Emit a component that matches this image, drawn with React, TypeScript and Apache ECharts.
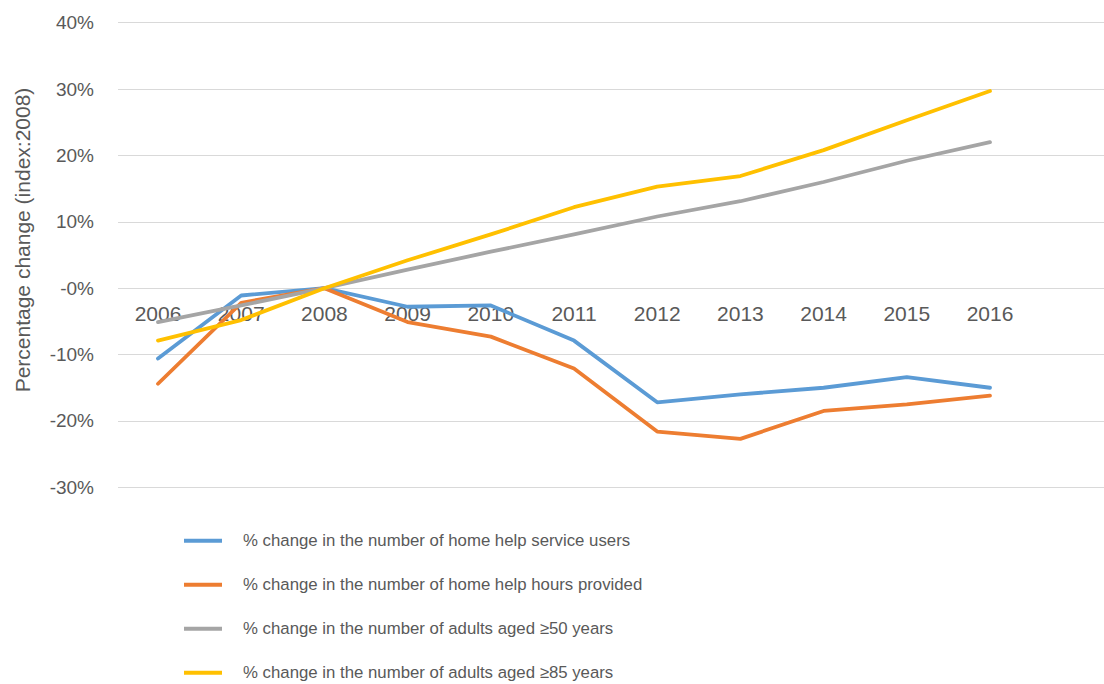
import React, { useEffect, useRef } from "react";
import * as echarts from "echarts";

const years = ["2006", "2007", "2008", "2009", "2010", "2011", "2012", "2013", "2014", "2015", "2016"];
const homeHelpUsers = [-10.6, -1.1, 0, -2.8, -2.6, -7.9, -17.2, -16.0, -15.0, -13.4, -15.0];
const homeHelpHours = [-14.4, -2.2, 0, -5.1, -7.3, -12.1, -21.6, -22.7, -18.5, -17.5, -16.2];
const adults50 = [-5.1, -2.6, 0, 2.8, 5.5, 8.1, 10.8, 13.1, 16.0, 19.2, 22.0];
const adults85 = [-7.9, -4.8, 0, 4.2, 8.1, 12.2, 15.3, 16.9, 20.8, 25.3, 29.7];
const seriesNames = [
  "% change in the number of home help service users",
  "% change in the number of home help hours provided",
  "% change in the number of adults aged ≥50 years",
  "% change in the number of adults aged ≥85 years",
];
const colors = ["#5B9BD5", "#ED7D31", "#A5A5A5", "#FFC000"];
const yTitle = "Percentage change (index:2008)";

export default function App() {
  const ref = useRef<HTMLDivElement>(null);
  useEffect(() => {
    if (!ref.current) return;
    const chart = echarts.init(ref.current, null, { renderer: "svg" });
    const font = "'Liberation Sans', Arial, sans-serif";
    const top = 22.7;
    const height = 464.6;
    const yMin = -30;
    const yMax = 40;
    // distance from bottom of plot to the zero line
    const zeroOffset = (height * (0 - yMin)) / (yMax - yMin);
    const dataSets = [homeHelpUsers, homeHelpHours, adults50, adults85];
    chart.setOption({
      animation: false,
      backgroundColor: "#ffffff",
      textStyle: { fontFamily: font },
      grid: [
        { left: 118, width: 986, top, height, containLabel: false },
        { left: 116.4, width: 915.2, top, height, containLabel: false },
      ],
      xAxis: [
        { type: "category", gridIndex: 0, data: years, show: false },
        {
          type: "category",
          gridIndex: 1,
          data: years,
          boundaryGap: true,
          position: "bottom",
          offset: -zeroOffset,
          axisLine: { show: false, onZero: false },
          axisTick: { show: false },
          splitLine: { show: false },
          axisLabel: { color: "#595959", fontSize: 21, margin: 15, fontFamily: font },
        },
      ],
      yAxis: [
        {
          type: "value",
          gridIndex: 0,
          min: yMin,
          max: yMax,
          interval: 10,
          axisLine: { show: false },
          axisTick: { show: false },
          splitLine: { show: true, lineStyle: { color: "#D9D9D9", width: 1 } },
          axisLabel: {
            color: "#595959",
            fontSize: 19,
            margin: 24,
            fontFamily: font,
            formatter: (v: number) => (v === 0 ? "-0%" : v + "%"),
          },
        },
        {
          type: "value",
          gridIndex: 1,
          min: yMin,
          max: yMax,
          interval: 10,
          show: false,
          splitLine: { show: false },
        },
      ],
      legend: {
        orient: "vertical",
        left: 184,
        top: 530.7,
        padding: 0,
        itemWidth: 38,
        itemHeight: 4,
        itemGap: 24,
        icon: "rect",
        textStyle: {
          color: "#595959",
          fontSize: 16.8,
          lineHeight: 20,
          fontFamily: font,
          padding: [0, 0, 0, 16],
        },
        data: seriesNames,
      },
      graphic: [
        {
          type: "text",
          x: 22,
          y: 240,
          rotation: Math.PI / 2,
          style: {
            text: yTitle,
            fill: "#595959",
            fontSize: 21,
            fontFamily: font,
            align: "center",
            verticalAlign: "middle",
          },
        },
      ],
      series: dataSets.map((d, i) => ({
        name: seriesNames[i],
        type: "line",
        xAxisIndex: 1,
        yAxisIndex: 1,
        data: d,
        symbol: "none",
        color: colors[i],
        lineStyle: { color: colors[i], width: 3.8, cap: "round", join: "round" },
        itemStyle: { color: colors[i] },
      })),
    });
    return () => chart.dispose();
  }, []);
  return (
    <div
      ref={ref}
      style={{ position: "fixed", left: 0, top: 0, width: 1104, height: 684 }}
    />
  );
}
